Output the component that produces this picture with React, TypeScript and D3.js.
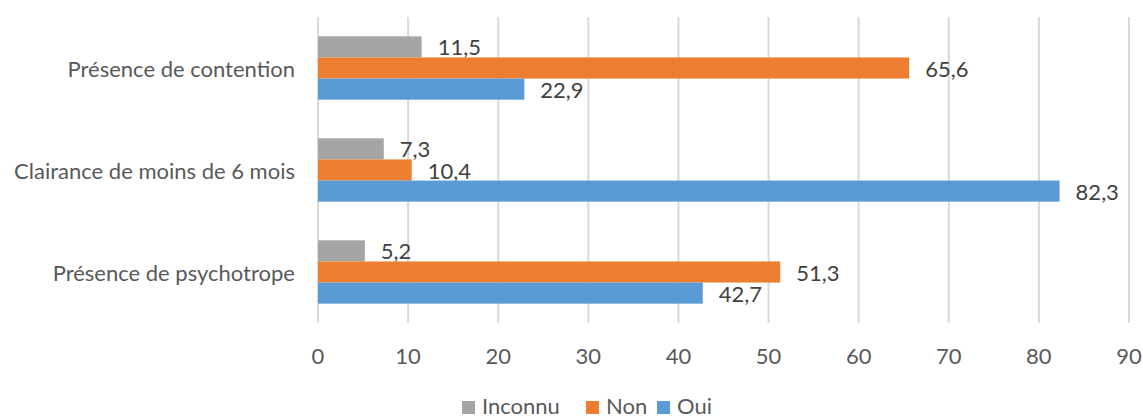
import React from 'react';
import * as d3 from 'd3';

const categories = ['Présence de contention', 'Clairance de moins de 6 mois', 'Présence de psychotrope'];
const seriesNames = ['Inconnu', 'Non', 'Oui'];
const seriesColors = ['#A5A5A5', '#ED7D31', '#5B9BD5'];
const inconnu = [11.5, 7.3, 5.2];
const non = [65.6, 10.4, 51.3];
const oui = [22.9, 82.3, 42.7];
const xTicks = [0, 10, 20, 30, 40, 50, 60, 70, 80, 90];

const W = 1143;
const H = 417;
const FONT = 'Lato, "Open Sans", sans-serif';
const TEXT = '#595959';
const FS = 22;

const App: React.FC = () => {
  const values = [inconnu, non, oui];
  const x = d3.scaleLinear().domain([0, 90]).range([318, 1129]);
  const y = d3.scaleBand<string>().domain(categories).range([17, 323]);
  const inner = d3.scaleBand<string>().domain(seriesNames)
    .range([0, y.bandwidth()]).paddingOuter(0.915).paddingInner(0);

  const fmt = (v: number) => d3.format('.1f')(v).replace('.', ',');

  // legend layout
  const legendItems = [
    { name: 'Inconnu', x: 462 },
    { name: 'Non', x: 586 },
    { name: 'Oui', x: 657 },
  ];

  return (
    <div style={{ position: 'absolute', left: 0, top: 0 }}>
      <svg width={W} height={H} style={{ display: 'block', background: '#fff' }} fontFamily={FONT}>
        {xTicks.map(t => (
          <line key={t} x1={x(t)} x2={x(t)} y1={17} y2={323} stroke="#D9D9D9" strokeWidth={2} />
        ))}
        {xTicks.map(t => (
          <text key={'t' + t} x={x(t)} y={355} textAnchor="middle" dominantBaseline="central"
            fontSize={FS} fill={TEXT}>{t}</text>
        ))}
        {categories.map((c, ci) => (
          <g key={c} transform={`translate(0,${y(c)})`}>
            <text x={295} y={y.bandwidth() / 2} textAnchor="end" dominantBaseline="central"
              fontSize={FS} fill={TEXT}>{c}</text>
            {seriesNames.map((s, si) => {
              const v = values[si][ci];
              const by = inner(s)!;
              return (
                <g key={s}>
                  <rect x={x(0)} y={by} width={x(v) - x(0)} height={inner.bandwidth()}
                    fill={seriesColors[si]} />
                  <text x={x(v) + 16} y={by + inner.bandwidth() / 2} dominantBaseline="central"
                    fontSize={FS} fill="#404040">{fmt(v)}</text>
                </g>
              );
            })}
          </g>
        ))}
        {legendItems.map((l, i) => (
          <g key={l.name}>
            <rect x={l.x} y={401} width={13} height={13} fill={seriesColors[i]} />
            <text x={l.x + 20} y={405} dominantBaseline="central" fontSize={FS} fill={TEXT}>{l.name}</text>
          </g>
        ))}
      </svg>
    </div>
  );
};

export default App;
